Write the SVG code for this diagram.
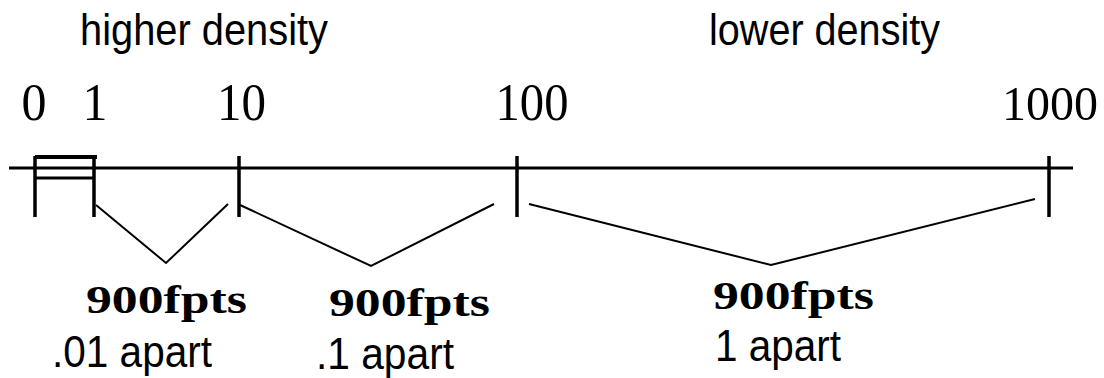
<svg xmlns="http://www.w3.org/2000/svg" width="1104" height="378" viewBox="0 0 1104 378">
<style>
.sans{font-family:"Liberation Sans",Arial,sans-serif;font-size:44px;fill:#000}
.num{font-family:"Liberation Serif","Times New Roman",serif;font-size:53px;fill:#000;text-anchor:middle}
.bold{font-family:"Liberation Serif","Times New Roman",serif;font-size:41px;font-weight:bold;fill:#000}
.axis{stroke:#000;stroke-width:3;fill:none}
.tick{stroke:#000;stroke-width:3.5;fill:none}
.brace{stroke:#000;stroke-width:2;fill:none;stroke-linejoin:miter}
</style>
<rect width="1104" height="378" fill="#fff"/>
<g id="headings">
<text class="sans" x="80" y="45" textLength="248" lengthAdjust="spacingAndGlyphs">higher density</text>
<text class="sans" x="709" y="45" textLength="231" lengthAdjust="spacingAndGlyphs">lower density</text>
</g>
<g id="labels">
<text class="num" x="34" y="120" textLength="25" lengthAdjust="spacingAndGlyphs">0</text>
<text class="num" x="95" y="120" textLength="25" lengthAdjust="spacingAndGlyphs">1</text>
<text class="num" x="241.5" y="120" textLength="49" lengthAdjust="spacingAndGlyphs">10</text>
<text class="num" x="532" y="120" textLength="73" lengthAdjust="spacingAndGlyphs">100</text>
<text class="num" x="1050" y="120" style="font-size:49px" textLength="96" lengthAdjust="spacingAndGlyphs">1000</text>
</g>
<g id="connectors">
<line class="axis" x1="9" y1="168" x2="1073" y2="168"/>
<line class="tick" x1="35" y1="156" x2="35" y2="217"/>
<line class="tick" x1="94" y1="156" x2="94" y2="217"/>
<line class="tick" x1="239" y1="156" x2="239" y2="217"/>
<line class="tick" x1="517" y1="156" x2="517" y2="217"/>
<line class="tick" x1="1049" y1="156" x2="1049" y2="217"/>
<line stroke="#000" stroke-width="4" x1="35" y1="157" x2="97" y2="157"/>
<line stroke="#000" stroke-width="3" x1="35" y1="178" x2="94" y2="178"/>
<polyline class="brace" points="96,205 166,263 228,204"/>
<polyline class="brace" points="240,205 371,266 494,204"/>
<polyline class="brace" points="529,204 771,265 1035,199"/>
</g>
<g id="group1">
<text class="bold" x="86" y="313" textLength="161" lengthAdjust="spacingAndGlyphs">900fpts</text>
<text class="sans" x="52" y="367" textLength="160" lengthAdjust="spacingAndGlyphs">.01 apart</text>
</g>
<g id="group2">
<text class="bold" x="329" y="316" textLength="161" lengthAdjust="spacingAndGlyphs">900fpts</text>
<text class="sans" x="316" y="369" textLength="138" lengthAdjust="spacingAndGlyphs">.1 apart</text>
</g>
<g id="group3">
<text class="bold" x="713" y="309" textLength="161" lengthAdjust="spacingAndGlyphs">900fpts</text>
<text class="sans" x="715" y="361" textLength="126" lengthAdjust="spacingAndGlyphs">1 apart</text>
</g>
</svg>
